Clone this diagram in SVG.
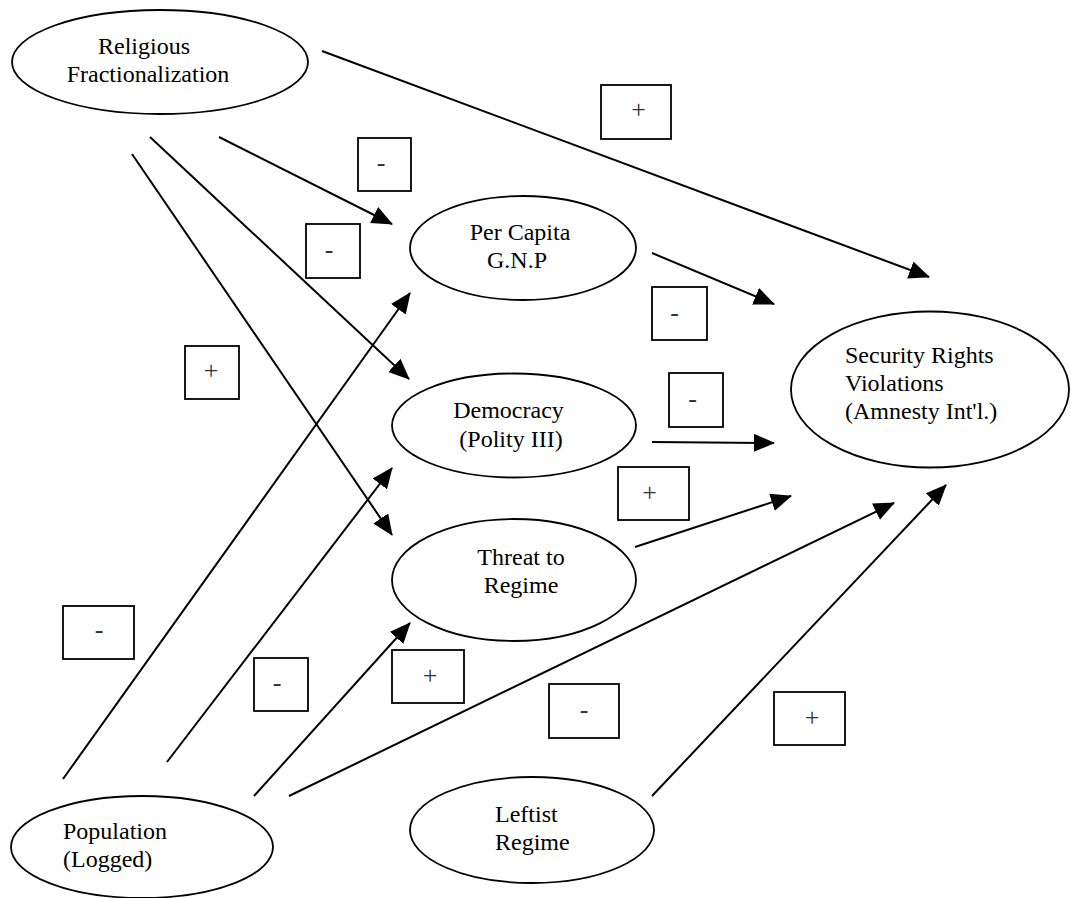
<svg xmlns="http://www.w3.org/2000/svg" width="1071" height="898" viewBox="0 0 1071 898">
  <style>
    .node ellipse { fill: #fff; stroke: #000; stroke-width: 1.8; }
    .node text { font-family: "Liberation Serif", "Times New Roman", serif; font-size: 24px; fill: #000; }
    .mid { text-anchor: middle; }
    .edge line { stroke: #000; stroke-width: 2; marker-end: url(#arrow); }
    .sign rect { fill: #fff; stroke: #000; stroke-width: 1.8; }
    .sign text { font-family: "Liberation Serif", "Times New Roman", serif; font-size: 26px; fill: #333; text-anchor: middle; }
  </style>
  <defs>
    <marker id="arrow" markerUnits="userSpaceOnUse" markerWidth="21" markerHeight="18" viewBox="0 0 21 18" refX="20" refY="9" orient="auto">
      <path d="M0,0 L21,9 L0,18 z" fill="#000"/>
    </marker>
  </defs>

  <rect width="1071" height="898" fill="#fff"/>

  <!-- connectors -->
  <g id="connectors" class="edge">
    <line x1="322" y1="51" x2="929" y2="277"/>
    <line x1="219" y1="137" x2="392" y2="224"/>
    <line x1="150" y1="137" x2="409" y2="379"/>
    <line x1="132" y1="154" x2="392" y2="535"/>
    <line x1="652" y1="253" x2="774" y2="304"/>
    <line x1="652" y1="442" x2="774" y2="443"/>
    <line x1="635" y1="547" x2="791" y2="496"/>
    <line x1="63" y1="779" x2="410" y2="293"/>
    <line x1="167" y1="762" x2="392" y2="468"/>
    <line x1="254" y1="796" x2="410" y2="623"/>
    <line x1="289" y1="796" x2="894" y2="503"/>
    <line x1="652" y1="796" x2="946" y2="485"/>
  </g>

  <!-- coefficient sign labels -->
  <g id="signs" class="sign">
    <g><rect x="601" y="85" width="70" height="54"/><text x="638.5" y="117.5">+</text></g>
    <g><rect x="358" y="138" width="53" height="53"/><text x="381" y="170.5">-</text></g>
    <g><rect x="306" y="224" width="54" height="54"/><text x="329" y="257.5">-</text></g>
    <g><rect x="185" y="346" width="54" height="53"/><text x="211" y="378.5">+</text></g>
    <g><rect x="652" y="287" width="55" height="53"/><text x="674.5" y="321">-</text></g>
    <g><rect x="669" y="373" width="54" height="54"/><text x="692.5" y="406.5">-</text></g>
    <g><rect x="618" y="467" width="71" height="53"/><text x="649.5" y="501">+</text></g>
    <g><rect x="63" y="606" width="71" height="53"/><text x="99" y="638">-</text></g>
    <g><rect x="254" y="658" width="54" height="53"/><text x="277" y="691">-</text></g>
    <g><rect x="392" y="650" width="72" height="53"/><text x="430" y="683.5">+</text></g>
    <g><rect x="549" y="684" width="70" height="54"/><text x="584" y="717.5">-</text></g>
    <g><rect x="774" y="692" width="71" height="53"/><text x="812" y="725.5">+</text></g>
  </g>

  <!-- nodes -->
  <g id="religious-fractionalization" class="node">
    <ellipse cx="160" cy="62" rx="148" ry="52"/>
    <text class="mid" x="144" y="54">Religious</text>
    <text class="mid" x="148" y="82">Fractionalization</text>
  </g>
  <g id="per-capita-gnp" class="node">
    <ellipse cx="523" cy="248" rx="113" ry="52"/>
    <text class="mid" x="520" y="240">Per Capita</text>
    <text class="mid" x="517" y="268">G.N.P</text>
  </g>
  <g id="democracy" class="node">
    <ellipse cx="514" cy="425.5" rx="122" ry="52"/>
    <text class="mid" x="508.5" y="418">Democracy</text>
    <text class="mid" x="511" y="447">(Polity III)</text>
  </g>
  <g id="threat-to-regime" class="node">
    <ellipse cx="514" cy="580" rx="122" ry="61"/>
    <text class="mid" x="521" y="565">Threat to</text>
    <text class="mid" x="521" y="593">Regime</text>
  </g>
  <g id="security-rights-violations" class="node">
    <ellipse cx="930" cy="389.5" rx="139" ry="78"/>
    <text x="845" y="363">Security Rights</text>
    <text x="845" y="391">Violations</text>
    <text x="845" y="419">(Amnesty Int'l.)</text>
  </g>
  <g id="population-logged" class="node">
    <ellipse cx="142" cy="847" rx="131" ry="51"/>
    <text x="63" y="839">Population</text>
    <text x="63" y="867">(Logged)</text>
  </g>
  <g id="leftist-regime" class="node">
    <ellipse cx="532" cy="830" rx="122" ry="53"/>
    <text x="495" y="822">Leftist</text>
    <text x="495" y="850">Regime</text>
  </g>
</svg>
